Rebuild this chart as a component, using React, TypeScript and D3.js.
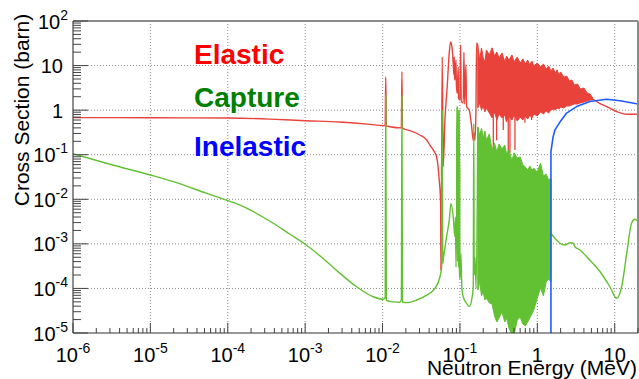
import React from 'react';
import * as d3 from 'd3';

const WIDTH = 639;
const HEIGHT = 379;
const PLOT = { left: 73, right: 638, top: 21, bottom: 333 };

const X_DOMAIN: [number, number] = [1e-6, 20];
const Y_DOMAIN: [number, number] = [1e-5, 100];

const xMajorExps = [-6, -5, -4, -3, -2, -1, 0, 1];
const yMajorExps = [-5, -4, -3, -2, -1, 0, 1, 2];
const minorMultipliers = [2, 3, 4, 5, 6, 7, 8, 9];

const xTitle = 'Neutron Energy (MeV)';
const yTitle = 'Cross Section (barn)';
const seriesNames = ['Elastic', 'Capture', 'Inelastic'];

// Elastic: smooth / isolated-resonance part [E (MeV), sigma (barn)]
const elasticLow: [number, number][] = [
  [1e-6, 0.68], [1e-5, 0.675], [1e-4, 0.665], [3.5e-4, 0.63], [1e-3, 0.58], [2.8e-3, 0.54],
  [6.9e-3, 0.48], [1.02e-2, 0.45], [1.08e-2, 0.45], [1.1e-2, 5.6], [1.12e-2, 0.445],
  [1.25e-2, 0.425], [1.75e-2, 0.4], [1.78e-2, 7.3], [1.81e-2, 0.395], [2.26e-2, 0.346],
  [3.04e-2, 0.277], [3.72e-2, 0.214], [4.09e-2, 0.165], [4.52e-2, 0.128], [5.0e-2, 0.089],
  [5.4e-2, 0.027], [5.63e-2, 0.0083], [5.68e-2, 2.6e-4], [5.8e-2, 0.065], [5.91e-2, 15.6],
  [6.08e-2, 0.054], [6.4e-2, 0.6], [6.85e-2, 3.4], [7.27e-2, 19], [7.58e-2, 34], [7.88e-2, 26.5],
  [8.19e-2, 11.4], [8.36e-2, 6.2], [8.44e-2, 15.6], [8.54e-2, 5.3], [8.62e-2, 4.75], [8.88e-2, 13.3],
  [9.01e-2, 3.5], [9.23e-2, 2.4], [9.51e-2, 9.3], [9.6e-2, 1.9], [0.1, 1.69], [0.1021, 29],
  [0.1039, 1.6], [0.1103, 1.45], [0.1126, 20], [0.115, 1.37], [0.1195, 10.3], [0.1221, 1.2],
  [0.1319, 1.0], [0.1417, 0.43], [0.1486, 0.21], [0.1517, 0.31], [0.1563, 0.21], [0.161, 1.0],
  [0.1644, 32], [0.17, 29],
];

// Elastic: unresolved dense resonance band [E, lower envelope, upper envelope]
const elasticBand: [number, number, number][] = [
  [0.17, 1.12, 29], [0.18, 1.45, 13.3], [0.19, 1.01, 24.8], [0.2, 1.24, 14.8], [0.21, 0.91, 12.0],
  [0.22, 1.12, 22.4], [0.24, 0.86, 17.3], [0.26, 0.67, 25], [0.28, 0.91, 16.4], [0.3, 0.6, 20.2],
  [0.32, 0.82, 14.8], [0.35, 0.67, 19.2], [0.38, 0.78, 12.0], [0.4, 0.54, 16.4], [0.43, 0.74, 13.3],
  [0.47, 0.6, 17.3], [0.5, 0.78, 12.0], [0.55, 0.57, 15.6], [0.6, 0.7, 11.4], [0.65, 0.6, 14.1],
  [0.7, 0.74, 10.8], [0.75, 0.63, 13.3], [0.8, 0.78, 10.3], [0.85, 0.67, 12.7], [0.9, 0.82, 9.8],
  [1.0, 0.74, 11.4], [1.1, 0.91, 9.3], [1.2, 0.82, 10.8], [1.3, 0.96, 8.4], [1.4, 0.86, 9.8],
  [1.5, 1.01, 7.6], [1.6, 1.06, 8.8], [1.7, 1.01, 6.8], [1.8, 1.12, 8.0], [1.9, 1.06, 6.15],
  [2.0, 1.18, 7.2], [2.2, 1.12, 5.5], [2.4, 1.24, 5.8], [2.6, 1.24, 4.5], [2.8, 1.31, 4.75],
  [3.0, 1.37, 3.66], [3.3, 1.37, 3.86], [3.6, 1.45, 2.98], [4.0, 1.52, 3.14], [4.4, 1.61, 2.43],
  [4.8, 1.69, 2.3], [5.2, 1.69, 1.87],
];

// Elastic: deep interference dips inside the band [E, sigma at dip]
const elasticDips: [number, number][] = [
  [0.27, 0.032], [0.298, 0.21], [0.363, 0.36], [0.421, 0.11], [0.443, 0.11], [0.514, 0.128],
  [0.692, 0.52], [0.844, 0.6],
];

// Elastic: smooth high-energy part
const elasticHigh: [number, number][] = [
  [5.2, 1.78], [6.4, 1.42], [7.86, 1.2], [10.6, 0.93], [14.3, 0.81], [20, 0.81],
];

// Capture: smooth / isolated-resonance part
const captureLow: [number, number][] = [
  [1e-6, 0.105], [3e-6, 0.061], [1e-5, 0.035], [1.98e-5, 0.0248], [5.33e-5, 0.0136], [1e-4, 0.0093],
  [1.44e-4, 0.0074], [3.87e-4, 0.0029], [6.37e-4, 0.00164], [9.9e-4, 0.00099], [1.71e-3, 4.7e-4],
  [2.82e-3, 2.18e-4], [4.62e-3, 1.09e-4], [7.59e-3, 6.5e-5], [1.02e-2, 5.7e-5], [1.08e-2, 6.2e-5],
  [1.1e-2, 2.2], [1.12e-2, 5.4e-5], [1.37e-2, 5.0e-5], [1.68e-2, 4.9e-5], [1.75e-2, 5.6e-5],
  [1.78e-2, 2.1], [1.81e-2, 4.9e-5], [2.05e-2, 4.8e-5], [2.76e-2, 5.5e-5], [3.72e-2, 7.1e-5],
  [4.75e-2, 1.0e-4], [5.52e-2, 1.83e-4], [5.8e-2, 3.0e-4], [5.91e-2, 1.0], [6.0e-2, 3.6e-4],
  [6.08e-2, 4.3e-4], [6.73e-2, 1.45e-3], [7.28e-2, 3.4e-3], [7.66e-2, 8.1e-3], [8.18e-2, 4.1e-3],
  [8.62e-2, 1.45e-3], [8.75e-2, 4.0e-3], [8.9e-2, 3.0e-4], [9.05e-2, 2.5e-3], [9.23e-2, 1.2],
  [9.35e-2, 4.0e-4], [9.45e-2, 2.0e-3], [9.6e-2, 3.0e-4], [9.71e-2, 1.0], [9.85e-2, 2.5e-4],
  [0.1, 1.6e-4], [0.103, 6.0e-4], [0.106, 1.0e-4], [0.1103, 6.5e-5], [0.1221, 4.6e-5],
  [0.132, 3.9e-5], [0.1417, 5.5e-5], [0.1486, 1.1e-4], [0.151, 0.5], [0.153, 2.0e-4],
  [0.1563, 5.0e-4], [0.162, 1.0e-4], [0.17, 0.42],
];

// Capture: narrow resonance cluster just above the 0.077 MeV peak [E, lower, upper]
const captureCluster: [number, number, number][] = [
  [0.0905, 2.5e-3, 0.3], [0.0923, 1.2e-3, 1.2], [0.094, 8e-4, 0.2], [0.0955, 6e-4, 0.5],
  [0.0971, 4e-4, 1.0], [0.0985, 3e-4, 0.15], [0.1, 2.2e-4, 0.05],
];

// Capture: dense resonance band [E, lower envelope, upper envelope]
const captureBand: [number, number, number][] = [
  [0.17, 9.2e-5, 0.42], [0.18, 1.39e-4, 0.277], [0.19, 6.8e-5, 0.392], [0.2, 8.3e-5, 0.237],
  [0.21, 5.5e-5, 0.34], [0.22, 6.1e-5, 0.214], [0.24, 4.7e-5, 0.292], [0.26, 4.5e-5, 0.128],
  [0.28, 2.4e-5, 0.183], [0.3, 1.77e-5, 0.115], [0.32, 2.17e-5, 0.174], [0.35, 2.96e-5, 0.134],
  [0.38, 1.77e-5, 0.165], [0.4, 2.17e-5, 0.104], [0.43, 1.3e-5, 0.128], [0.47, 9e-6, 0.072],
  [0.5, 9e-6, 0.11], [0.55, 1.96e-5, 0.084], [0.6, 2.29e-5, 0.089], [0.65, 1.59e-5, 0.059],
  [0.7, 1.44e-5, 0.053], [0.75, 1.77e-5, 0.045], [0.8, 2.17e-5, 0.056], [0.85, 2.67e-5, 0.045],
  [0.9, 3.3e-5, 0.05], [1.0, 6.1e-5, 0.041], [1.1, 1.02e-4, 0.065], [1.2, 6.8e-5, 0.033],
  [1.3, 1.39e-4, 0.037], [1.4, 1.63e-4, 0.027], [1.5, 1.39e-4, 0.03],
];

// Capture: smooth high-energy part
const captureHigh: [number, number][] = [
  [1.5, 1.73e-3], [1.69, 1.33e-3], [1.96, 1.03e-3], [2.27, 9.4e-4], [2.64, 1.06e-3], [2.91, 1.03e-3],
  [3.06, 8.6e-4], [3.55, 7.3e-4], [4.78, 4.3e-4], [6.44, 2.4e-4], [8.67, 1.09e-4], [10.6, 6.0e-5],
  [12.3, 1.09e-4], [14.3, 6.1e-4], [16.5, 2.9e-3], [18.2, 3.56e-3], [20, 3.2e-3],
];

// Inelastic (threshold ~1.5 MeV)
const inelastic: [number, number][] = [
  [1.5, 1e-6], [1.5, 0.117], [1.6, 0.254], [1.69, 0.36], [1.96, 0.54], [2.39, 0.86], [3.22, 1.2],
  [4.78, 1.56], [7.86, 1.75], [11.7, 1.63], [20, 1.37],
];

const RED = '#e8423a';
const GREEN = '#62c133';
const BLUE = '#1f5cff';
const FONT = "'Liberation Sans', Arial, Helvetica, sans-serif";

export default function App() {
  const x = d3.scaleLog().domain(X_DOMAIN).range([PLOT.left, PLOT.right]);
  const y = d3.scaleLog().domain(Y_DOMAIN).range([PLOT.bottom, PLOT.top]);
  const line = d3.line<[number, number]>().x(d => x(d[0])).y(d => y(d[1]));
  const smooth = d3
    .line<[number, number]>()
    .x(d => x(d[0]))
    .y(d => y(d[1]))
    .curve(d3.curveMonotoneX);
  const area = d3
    .area<[number, number, number]>()
    .x(d => x(d[0]))
    .y0(d => y(d[1]))
    .y1(d => y(d[2]));

  const xMinor: number[] = [];
  xMajorExps.forEach(k =>
    minorMultipliers.forEach(m => {
      const v = m * Math.pow(10, k);
      if (v <= X_DOMAIN[1]) xMinor.push(v);
    })
  );
  const yMinor: number[] = [];
  yMajorExps.forEach(k =>
    minorMultipliers.forEach(m => {
      const v = m * Math.pow(10, k);
      if (v <= Y_DOMAIN[1]) yMinor.push(v);
    })
  );

  const gridX = xMajorExps.filter(k => k > -6).map(k => Math.pow(10, k));
  const gridY = yMajorExps.filter(k => k > -5 && k < 2).map(k => Math.pow(10, k));

  const label = (k: number, sfs: number) => {
    if (k === 0) return <tspan>1</tspan>;
    if (k === 1) return <tspan>10</tspan>;
    return (
      <>
        <tspan>10</tspan>
        <tspan fontSize={sfs} dy={-9}>{String(k)}</tspan>
      </>
    );
  };

  const curveStyle = { fill: 'none', strokeWidth: 1.4, strokeLinejoin: 'round' as const };

  return (
    <svg
      width={WIDTH}
      height={HEIGHT}
      style={{ position: 'absolute', left: 0, top: 0 }}
      fontFamily={FONT}
    >
      <rect x={0} y={0} width={WIDTH} height={HEIGHT} fill="#fff" />
      <defs>
        <clipPath id="plotClip">
          <rect x={PLOT.left} y={PLOT.top} width={PLOT.right - PLOT.left} height={PLOT.bottom - PLOT.top} />
        </clipPath>
      </defs>

      {/* grid */}
      <g stroke="#8a8a8a" strokeWidth={1} strokeDasharray="1 2">
        {gridX.map(v => (
          <line key={'gx' + v} x1={x(v)} x2={x(v)} y1={PLOT.top} y2={PLOT.bottom} />
        ))}
        {gridY.map(v => (
          <line key={'gy' + v} x1={PLOT.left} x2={PLOT.right} y1={y(v)} y2={y(v)} />
        ))}
      </g>

      <g clipPath="url(#plotClip)">
        {/* Elastic */}
        <path d={smooth(elasticLow) || ''} stroke={RED} {...curveStyle} />
        <path d={area(elasticBand) || ''} fill={RED} stroke={RED} strokeWidth={1} />
        {elasticDips.map(d => (
          <line key={'ed' + d[0]} x1={x(d[0])} x2={x(d[0])} y1={y(1)} y2={y(d[1])} stroke={RED} strokeWidth={1.3} />
        ))}
        <path d={smooth(elasticHigh) || ''} stroke={RED} {...curveStyle} />

        {/* Capture */}
        <path d={smooth(captureLow) || ''} stroke={GREEN} {...curveStyle} />
        <path d={area(captureCluster) || ''} fill={GREEN} stroke={GREEN} strokeWidth={1} />
        <path d={area(captureBand) || ''} fill={GREEN} stroke={GREEN} strokeWidth={1} />
        <path d={smooth(captureHigh) || ''} stroke={GREEN} {...curveStyle} />

        {/* Inelastic */}
        <path d={line(inelastic) || ''} stroke={BLUE} {...curveStyle} strokeWidth={1.6} />
      </g>

      {/* frame */}
      <line x1={PLOT.left} x2={PLOT.right} y1={PLOT.top} y2={PLOT.top} stroke="#8c8c8c" strokeWidth={2} />
      <line x1={PLOT.right} x2={PLOT.right} y1={PLOT.top} y2={PLOT.bottom} stroke="#8c8c8c" strokeWidth={2} />
      <line x1={PLOT.left} x2={PLOT.left} y1={PLOT.top} y2={PLOT.bottom} stroke="#444" strokeWidth={1.2} />
      <line x1={PLOT.left} x2={PLOT.right} y1={PLOT.bottom} y2={PLOT.bottom} stroke="#333" strokeWidth={1.2} />

      {/* ticks */}
      <g stroke="#444" strokeWidth={1}>
        {xMajorExps.map(k => {
          const xv = x(Math.pow(10, k));
          return <line key={'xM' + k} x1={xv} x2={xv} y1={PLOT.bottom} y2={PLOT.bottom - 10} />;
        })}
        {xMinor.map(v => (
          <line key={'xm' + v} x1={x(v)} x2={x(v)} y1={PLOT.bottom} y2={PLOT.bottom - 5} />
        ))}
        {yMajorExps.map(k => {
          const yv = y(Math.pow(10, k));
          return <line key={'yM' + k} x1={PLOT.left} x2={PLOT.left + 15} y1={yv} y2={yv} />;
        })}
        {yMinor.map(v => (
          <line key={'ym' + v} x1={PLOT.left} x2={PLOT.left + 8} y1={y(v)} y2={y(v)} />
        ))}
      </g>

      {/* tick labels */}
      <g fill="#000" fontSize={20}>
        {xMajorExps.map(k => (
          <text key={'xl' + k} x={x(Math.pow(10, k))} y={362} textAnchor="middle">
            {label(k, 14)}
          </text>
        ))}
        {yMajorExps.map(k => (
          <text
            key={'yl' + k}
            x={k === 0 || k === 1 ? 63 : 68}
            y={y(Math.pow(10, k)) + 7.5}
            textAnchor="end"
          >
            {label(k, 14)}
          </text>
        ))}
      </g>

      {/* axis titles */}
      <text x={637} y={375} textAnchor="end" fontSize={21} fill="#000">
        {xTitle}
      </text>
      <text transform="translate(29, 110) rotate(-90)" textAnchor="middle" fontSize={21} fill="#000">
        {yTitle}
      </text>

      {/* series labels */}
      <g fontSize={28} fontWeight="bold">
        <text x={194} y={63.5} fill="#ff0000">{seriesNames[0]}</text>
        <text x={194} y={107} fill="#008000">{seriesNames[1]}</text>
        <text x={194} y={156} fill="#0000ff">{seriesNames[2]}</text>
      </g>
    </svg>
  );
}
